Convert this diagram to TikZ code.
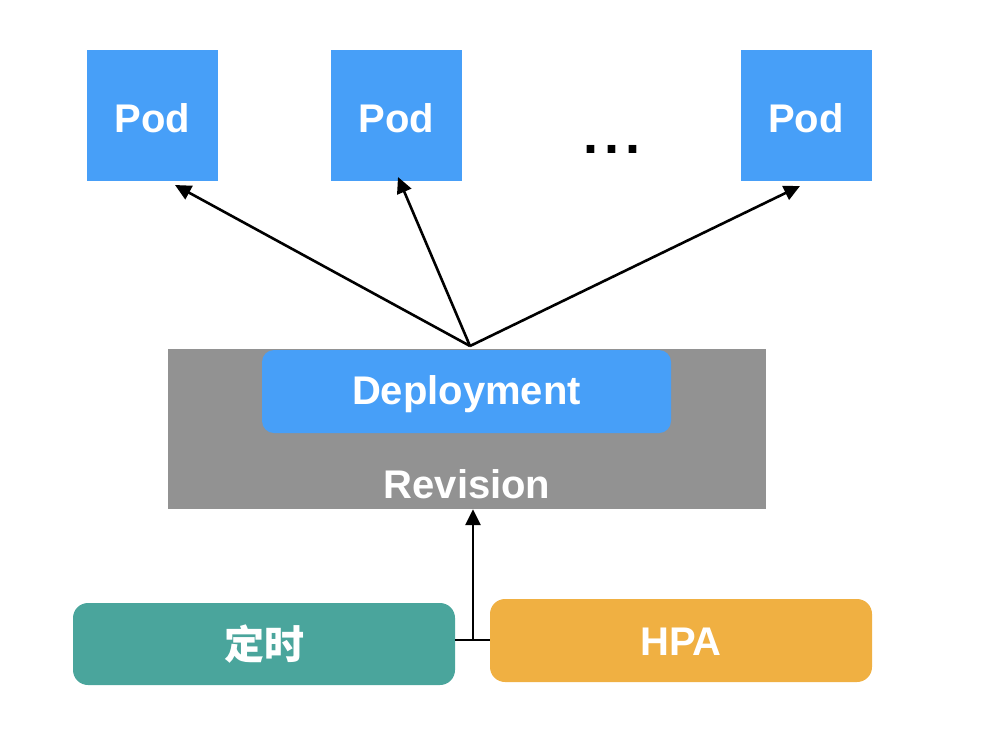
\documentclass[tikz,border=0pt]{standalone}
\usepackage{fontspec}
\setmainfont{Liberation Sans}
\newfontfamily\cjk{Noto Sans CJK SC}
\usetikzlibrary{arrows.meta}
\definecolor{podblue}{HTML}{479FF8}
\definecolor{revgray}{HTML}{929292}
\definecolor{teal1}{HTML}{4AA59C}
\definecolor{orange1}{HTML}{F0B042}
\begin{document}
\begin{tikzpicture}[x=1pt,y=-1pt,
  lbl/.style={font=\fontsize{40}{44}\selectfont\bfseries, text=white},
  podbox/.style={fill=podblue, minimum width=131pt, minimum height=131pt, inner sep=0pt},
  arr/.style={line width=2.6pt, -{Triangle[length=16pt,width=15pt]}},
  conn/.style={line width=2.6pt}]
\useasboundingbox (0,0) rectangle (990,750);
\node[podbox, label={[lbl, inner sep=0pt, yshift=-3pt]center:Pod}] (p1) at (152.5,115.5) {};
\node[podbox, label={[lbl, inner sep=0pt, yshift=-3pt]center:Pod}] (p2) at (396.5,115.5) {};
\node[podbox, label={[lbl, inner sep=0pt, yshift=-3pt]center:Pod}] (p3) at (806,115.5) {};
\node[font=\fontsize{54}{58}\selectfont\bfseries, inner sep=0pt, anchor=base] (dots) at (612,153) {.\hspace{6pt}.\hspace{6pt}.};
\node[fill=revgray, minimum width=598pt, minimum height=160pt, inner sep=0pt] (rev) at (467,429) {};
\node[lbl, inner sep=0pt] (revt) at (467,484) {Revision};
\node[fill=podblue, rounded corners=12pt, minimum width=409pt, minimum height=83pt, inner sep=0pt, label={[lbl, inner sep=0pt, yshift=-3pt]center:Deployment}] (dep) at (466.5,391.5) {};
\coordinate (apex) at (470,346);
\coordinate (t1) at (175,185);
\coordinate (t2) at (398,177);
\coordinate (t3) at (800,186);
\draw[arr] (apex) -- (t1);
\draw[arr] (apex) -- (t2);
\draw[arr] (apex) -- (t3);
\node[fill=teal1, rounded corners=15pt, minimum width=382pt, minimum height=82pt, inner sep=0pt, lbl] (timer) at (264,644) {\cjk\bfseries 定时};
\node[fill=orange1, rounded corners=15pt, minimum width=382pt, minimum height=83pt, inner sep=0pt, label={[lbl, inner sep=0pt, yshift=-1pt]center:HPA}] (hpa) at (681,640.5) {};
\coordinate (jn) at (473,640);
\draw[conn] (timer.east |- jn) -- (hpa.west |- jn);
\draw[arr] (jn) -- (rev.south -| jn);
\end{tikzpicture}
\end{document}
